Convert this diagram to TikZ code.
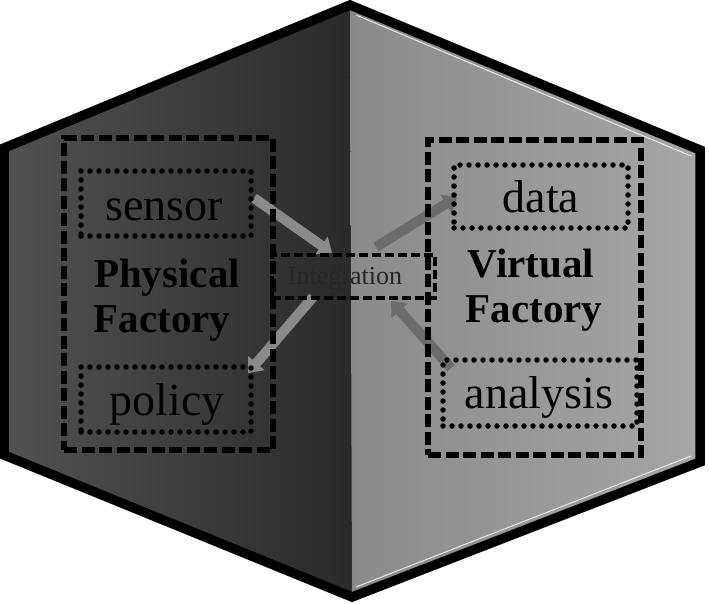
\documentclass[tikz,border=0pt]{standalone}
\usepackage{fontspec}
\setmainfont{Liberation Serif}
\usetikzlibrary{arrows.meta}
\definecolor{leftouter}{HTML}{525252}
\definecolor{leftinner}{HTML}{2A2A2A}
\definecolor{rightinner}{HTML}{8A8A8A}
\definecolor{rightouter}{HTML}{A6A6A6}
\definecolor{arrowlight}{HTML}{8A8A8A}
\definecolor{arrowdark}{HTML}{6C6C6C}
\tikzset{
  dashbox/.style={draw=black, line width=5.5pt, dash pattern=on 13pt off 4.5pt, inner sep=0pt},
  dotbox/.style={draw=black, line width=5.5pt, dash pattern=on 0pt off 9pt, line cap=round, inner sep=0pt},
  intbox/.style={draw=black, line width=4.8pt, dash pattern=on 9pt off 4pt, inner sep=0pt},
  bigtxt/.style={font=\fontsize{46}{50}\selectfont, anchor=base, inner sep=0pt},
  boldtxt/.style={font=\fontsize{41}{45}\selectfont\bfseries, anchor=base, inner sep=0pt},
  inttxt/.style={font=\fontsize{26}{30}\selectfont, anchor=base, inner sep=0pt, text=black!85},
  flow/.style={line width=10pt, -{Triangle[length=13pt,width=21pt]}}
}
\begin{document}
\begin{tikzpicture}[x=1pt,y=-1pt]
\useasboundingbox (0,0) rectangle (709,603);
% hexagon halves
\fill[left color=leftouter, right color=leftinner] (350,5) -- (4,148) -- (4,455) -- (352,597) -- cycle;
\fill[left color=rightinner, right color=rightouter] (350,5) -- (700,150) -- (700,462) -- (352,597) -- cycle;
\draw[white, line width=1pt, opacity=0.8] (356,15) -- (691,156);
\draw[white, line width=1pt, opacity=0.8] (691,456) -- (356,587);
\draw[black, line width=9.5pt, line join=miter] (350,5) -- (700,150) -- (700,462) -- (352,597) -- (4,455) -- (4,148) -- cycle;
% arrow end points
\coordinate (s1) at (254,198);
\coordinate (t1) at (332,253);
\coordinate (s2) at (376,247);
\coordinate (t2) at (457,197);
\coordinate (s3) at (313,297);
\coordinate (t3) at (248,373);
\coordinate (s4) at (451,368);
\coordinate (t4) at (391,301);
\draw[flow, draw=arrowlight, fill=arrowlight] (s1) -- (t1);
\draw[flow, draw=arrowdark, fill=arrowdark] (s2) -- (t2);
\draw[flow, draw=arrowlight, fill=arrowlight] (s3) -- (t3);
\draw[flow, draw=arrowdark, fill=arrowdark] (s4) -- (t4);
% boxes
\node[dashbox, minimum width=209pt, minimum height=312pt] (phys) at (168.5,294) {};
\node[dashbox, minimum width=213pt, minimum height=315pt] (virt) at (534.5,297.5) {};
\node[dotbox, minimum width=170pt, minimum height=65pt] (sensorbox) at (166,203.5) {};
\node[dotbox, minimum width=170pt, minimum height=65pt] (policybox) at (166,399.5) {};
\node[dotbox, minimum width=174pt, minimum height=63pt] (databox) at (541,196.5) {};
\node[dotbox, minimum width=194pt, minimum height=66pt] (analysisbox) at (540,393) {};
\node[intbox, minimum width=163pt, minimum height=43pt] (integ) at (353.5,276.5) {};
% texts
\node[bigtxt] (tsensor) at (164,220) {sensor};
\node[bigtxt] (tpolicy) at (167,415) {policy};
\node[bigtxt] (tdata) at (541,212) {data};
\node[bigtxt] (tanalysis) at (539,408) {analysis};
\node[boldtxt] (tphys1) at (167,287) {Physical};
\node[boldtxt] (tphys2) at (162,332) {Factory};
\node[boldtxt] (tvirt1) at (531,277) {Virtual};
\node[boldtxt] (tvirt2) at (534,322) {Factory};
\node[inttxt] (tint) at (345,284) {Integration};
\end{tikzpicture}
\end{document}
